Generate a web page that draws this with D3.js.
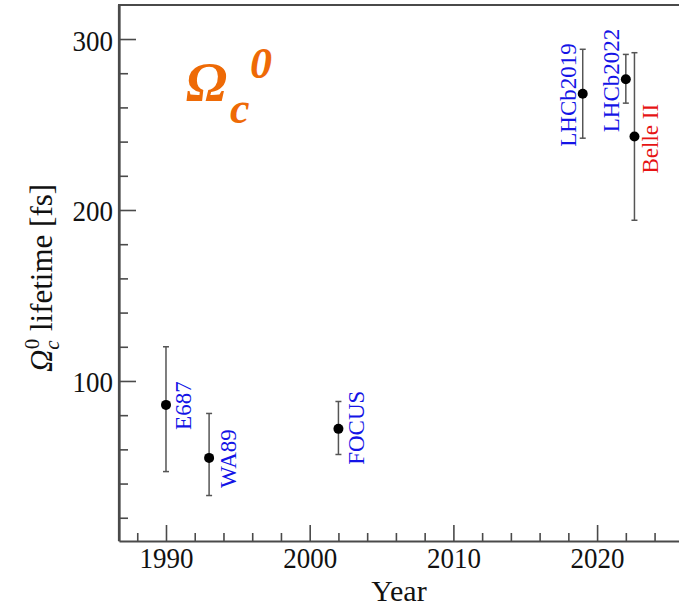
<!DOCTYPE html>
<html>
<head>
<meta charset="utf-8">
<script src="https://cdn.jsdelivr.net/npm/d3@7"></script>
<style>
  html, body { margin: 0; padding: 0; background: #fff; }
  svg { display: block; }
  text { font-family: "Liberation Serif", "Times New Roman", serif; }
</style>
</head>
<body>
<svg id="chart" width="679" height="608"></svg>
<script>
// ---- data ----
const experiments = ["E687", "WA89", "FOCUS", "LHCb2019", "LHCb2022", "Belle II"];
const years       = [1990, 1993, 2002, 2019, 2022, 2022.6];
const lifetimes   = [86, 55, 72, 268, 276.5, 243];
const errHigh     = [120, 81, 88, 294, 291, 292];
const errLow      = [47, 33, 57, 242, 262.5, 194];
const xMajorTicks = [1990, 2000, 2010, 2020];
const yMajorTicks = [100, 200, 300];

// ---- layout ----
const plotLeft = 119, plotRight = 679, plotTop = 5, plotBottom = 541;
const labelOffset = {
  "E687": [25, 25], "WA89": [27, 30], "FOCUS": [26, 36],
  "LHCb2019": [-7, 53], "LHCb2022": [-7, 53], "Belle II": [24, 37]
};
const labelColor = d3.scaleOrdinal()
  .domain(experiments)
  .range(["#1414e6", "#1414e6", "#1414e6", "#1414e6", "#1414e6", "#e61414"]);
const axisColor = "#4a4a4a";

const svg = d3.select("#chart");

const x = d3.scaleLinear().domain([1986.73, 2025.7]).range([plotLeft, plotRight]);
const y = d3.scaleLinear().domain([6.4, 319.9]).range([plotBottom, plotTop]);

const xMinor = d3.range(1988, 2026, 2).filter(v => !xMajorTicks.includes(v));
const yMinor = d3.range(20, 320, 20).filter(v => !yMajorTicks.includes(v));

// minor ticks
svg.append("g").attr("transform", `translate(0,${plotBottom})`)
  .call(d3.axisBottom(x).tickValues(xMinor).tickSize(-8).tickSizeOuter(0).tickFormat(""))
  .call(g => g.select(".domain").remove());
svg.append("g").attr("transform", `translate(${plotLeft},0)`)
  .call(d3.axisLeft(y).tickValues(yMinor).tickSize(-9).tickSizeOuter(0).tickFormat(""))
  .call(g => g.select(".domain").remove());

// major axes
const xAxis = svg.append("g").attr("transform", `translate(0,${plotBottom})`)
  .call(d3.axisBottom(x).tickValues(xMajorTicks).tickSize(-16).tickSizeOuter(0).tickFormat(d3.format("d")));
const yAxis = svg.append("g").attr("transform", `translate(${plotLeft},0)`)
  .call(d3.axisLeft(y).tickValues(yMajorTicks).tickSize(-17).tickSizeOuter(0));

svg.selectAll(".tick line").attr("stroke", axisColor).attr("stroke-width", 1.6);
svg.selectAll(".domain").attr("stroke", axisColor).attr("stroke-width", 2.2);
svg.selectAll(".tick text").attr("fill", "#111").attr("font-size", 27)
  .attr("font-family", "Liberation Serif");
xAxis.selectAll(".tick text").attr("y", 0).attr("dy", 0)
  .attr("transform", "translate(0,27) scale(1,1.12)");
yAxis.selectAll(".tick text").attr("x", 0).attr("dy", 0)
  .attr("transform", "translate(-6,11) scale(1,1.12)");

// top frame line
svg.append("line").attr("x1", plotLeft - 1).attr("x2", plotRight).attr("y1", plotTop).attr("y2", plotTop)
  .attr("stroke", axisColor).attr("stroke-width", 2.2);
svg.append("line").attr("x1", plotLeft).attr("x2", plotLeft).attr("y1", plotTop).attr("y2", plotBottom)
  .attr("stroke", axisColor).attr("stroke-width", 2.2);

// axis titles
svg.append("text").attr("x", 399).attr("y", 601).attr("text-anchor", "middle")
  .attr("font-size", 30).attr("fill", "#111").text("Year");

const yt = svg.append("text").attr("transform", "translate(52,278) rotate(-90)")
  .attr("text-anchor", "middle").attr("font-size", 31).attr("fill", "#111");
yt.append("tspan").attr("font-style", "italic").text("Ω");
yt.append("tspan").attr("font-style", "italic").attr("font-size", 21).attr("dy", 7).text("c");
yt.append("tspan").attr("font-size", 21).attr("dx", -9).attr("dy", -20).text("0");
yt.append("tspan").attr("dy", 13).text(" lifetime [fs]");

// big title
const titleColor = "#ee6a06";
svg.append("text").attr("x", 186).attr("y", 100).attr("font-size", 55)
  .attr("font-weight", "bold").attr("font-style", "italic").attr("fill", titleColor).text("Ω");
svg.append("text").attr("x", 230).attr("y", 123).attr("font-size", 44)
  .attr("font-weight", "bold").attr("font-style", "italic").attr("fill", titleColor).text("c");
svg.append("text").attr("x", 250).attr("y", 78).attr("font-size", 44)
  .attr("font-weight", "bold").attr("font-style", "italic").attr("fill", titleColor).text("0");

// data
const data = experiments.map((e, i) => ({
  name: e, year: years[i], v: lifetimes[i], hi: errHigh[i], lo: errLow[i]
}));

const pts = svg.append("g").selectAll("g").data(data).join("g");
pts.append("line")
  .attr("x1", d => x(d.year)).attr("x2", d => x(d.year))
  .attr("y1", d => y(d.hi)).attr("y2", d => y(d.lo))
  .attr("stroke", "#555").attr("stroke-width", 1.5);
pts.append("line")
  .attr("x1", d => x(d.year) - 3).attr("x2", d => x(d.year) + 3)
  .attr("y1", d => y(d.hi)).attr("y2", d => y(d.hi))
  .attr("stroke", "#555").attr("stroke-width", 1.5);
pts.append("line")
  .attr("x1", d => x(d.year) - 3).attr("x2", d => x(d.year) + 3)
  .attr("y1", d => y(d.lo)).attr("y2", d => y(d.lo))
  .attr("stroke", "#555").attr("stroke-width", 1.5);
pts.append("circle")
  .attr("cx", d => x(d.year)).attr("cy", d => y(d.v)).attr("r", 5)
  .attr("fill", "#000");
pts.append("text")
  .attr("transform", d => {
    const o = labelOffset[d.name];
    return `translate(${x(d.year) + o[0]},${y(d.v) + o[1]}) rotate(-90)`;
  })
  .attr("font-size", 23)
  .attr("fill", d => labelColor(d.name))
  .text(d => d.name);
</script>
</body>
</html>
